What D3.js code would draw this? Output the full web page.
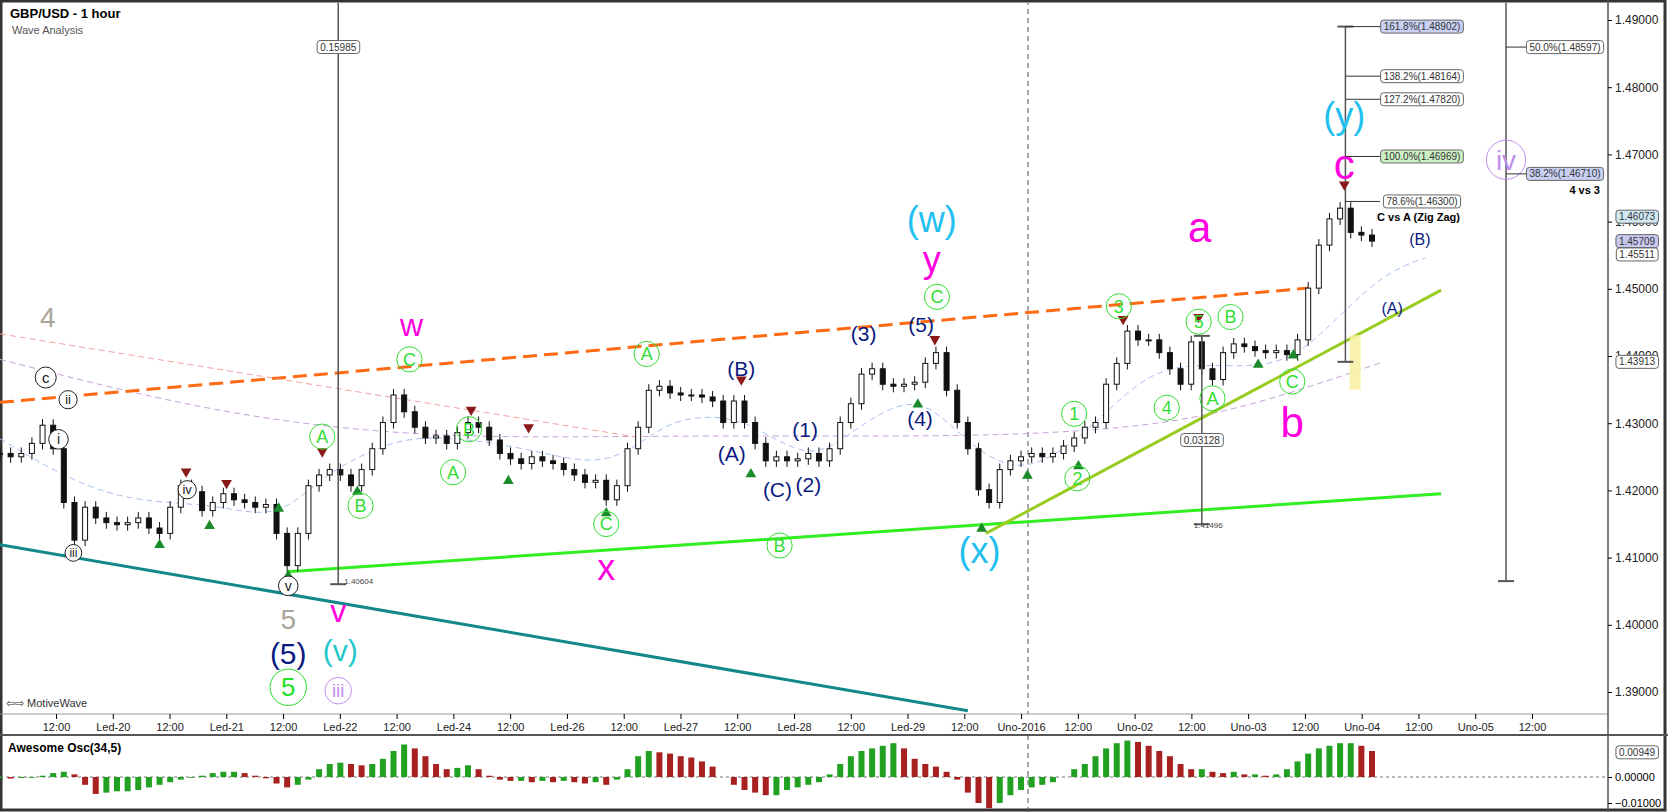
<!DOCTYPE html>
<html>
<head>
<meta charset="utf-8">
<style>
  body { margin: 0; background: #fff; font-family: "Liberation Sans", Arial, sans-serif; }
  svg { display: block; }
</style>
</head>
<body>
<svg id="chart" width="1668" height="812"></svg>
<script src="https://cdn.jsdelivr.net/npm/d3@7"></script>
<script>
// closes, one per bar step (about 2 hours)
const closes = [1.4255,1.4250,1.4255,1.4270,1.4297,1.4262,1.4182,1.4126,1.4175,1.4159,
1.4152,1.4149,1.4152,1.4159,1.4144,1.4136,1.4175,1.4207,1.4198,1.4170,
1.4182,1.4195,1.4186,1.4182,1.4175,1.4179,1.4136,1.4088,1.4136,1.4207,
1.4223,1.4231,1.4223,1.4207,1.4231,1.4262,1.4301,1.4342,1.4317,1.4294,
1.4278,1.4281,1.4270,1.4286,1.4301,1.4294,1.4275,1.4255,1.4247,1.4240,
1.4250,1.4244,1.4240,1.4231,1.4223,1.4212,1.4215,1.4186,1.4207,1.4262,
1.4294,1.4349,1.4355,1.4345,1.4342,1.4342,1.4339,1.4333,1.4301,1.4333,
1.4301,1.4270,1.4244,1.4250,1.4244,1.4247,1.4255,1.4244,1.4262,1.4301,
1.4329,1.4373,1.4381,1.4358,1.4355,1.4358,1.4361,1.4389,1.4405,1.4349,
1.4301,1.4262,1.4201,1.4182,1.4231,1.4244,1.4250,1.4255,1.4250,1.4255,
1.4266,1.4278,1.4294,1.4301,1.4358,1.4389,1.4437,1.4424,1.4424,1.4405,
1.4381,1.4358,1.4421,1.4381,1.4365,1.4405,1.4418,1.4414,1.4408,1.4405,
1.4408,1.4402,1.4424,1.4501,1.4565,1.4604,1.4620,1.4584,1.4580,1.4571];
const wick = 0.0009;

// Awesome oscillator, in thousandths
const osc = [-0.5,-0.6,-0.4,-0.3,0.5,1.5,2,1,-3,-6.5,-6,-5.5,-5.5,-5,-4,-3,-2,-1,-0.3,0.5,
1.5,2,2,1.5,0.5,-0.5,-2.5,-4,-3,-1,3,5,5.5,5,4.5,5,7,10,12.5,11,
8,5,3,3.5,4.5,3,0.5,-1,-1.5,-1.5,-2,-1.5,-2,-1.5,-2,-2.5,-2,-3,-1,3,
8,10,9.5,9,8,7.5,6,4,0,-3,-5,-6,-7,-7,-5,-4,-3,-2,1,5,
8,10,11,12,13,11,7,5,4,2,-1,-6,-10,-12,-10,-7,-5,-4,-3,-2,
0,3,5,8,11,13,14,13.5,12,10,8,5,3,3,2,1.5,2,1,1,0.5,
1,3,6,9,11,12,13,13,12,10];

const timeLabels = ["12:00","Led-20","12:00","Led-21","12:00","Led-22","12:00","Led-24","12:00","Led-26","12:00","Led-27","12:00","Led-28","12:00","Led-29","12:00","Uno-2016","12:00","Uno-02","12:00","Uno-03","12:00","Uno-04","12:00","Uno-05","12:00"];
const priceTicks = [1.39,1.40,1.41,1.42,1.43,1.44,1.45,1.46,1.47,1.48,1.49];

// moving averages [bar, price]
const maPurple = [[0,1.4395],[20,1.4314],[40,1.4277],[60,1.4281],[80,1.4281],[95,1.4281],[110,1.4297],[120,1.4337],[130,1.4391]];
const maBlue = [[0,1.4277],[10,1.4182],[20,1.4182],[26,1.4154],[30,1.4218],[35,1.4262],[40,1.4286],[50,1.4262],[57,1.4231],[62,1.4294],[65,1.4310],[70,1.4310],[76,1.4240],[80,1.4286],[86,1.4349],[90,1.4286],[95,1.4223],[100,1.4255],[105,1.4333],[110,1.4398],[120,1.4373],[125,1.4444],[130,1.4523],[134,1.4546]];

// trend lines [bar0, price0, bar1, price1]
const trendLines = [
  {p: [0,1.4331,123,1.4501], color: "#ff6a13", w: 3, dash: "14,7"},
  {p: [27,1.4079,135.5,1.4195], color: "#33ee22", w: 3, dash: null},
  {p: [0,1.4119,91,1.3872], color: "#13888a", w: 3, dash: null},
  {p: [92.7,1.4136,135.5,1.4498], color: "#99cc22", w: 3, dash: null},
  {p: [0,1.4433,60,1.4279], color: "#f4a0a0", w: 1, dash: "6,4"}
];

// wave labels: [text, bar, price, color, size, circled]
const waveLabels = [
  ["4",4.5,1.4458,"#a9a59a",28,false],["c",4.3,1.4368,"#222",15,true],["ii",6.4,1.4335,"#222",13,true],
  ["i",5.5,1.4276,"#222",14,true],["iii",6.9,1.4107,"#222",12,true],["iv",17.6,1.4201,"#222",13,true],
  ["v",27.1,1.4058,"#222",14,true],["5",27.1,1.4008,"#a9a59a",28,false],["(5)",27.1,1.3957,"#0b1a80",30,false],
  ["5",27.1,1.3907,"#22e022",26,true],["(v)",32,1.3962,"#22c8cc",30,false],["iii",31.8,1.3902,"#c090f0",19,true],
  ["v",31.8,1.4021,"#ff00e0",32,false],["w",38.7,1.4446,"#ff00e0",32,false],
  ["A",30.3,1.4280,"#33dd33",18,true],["B",33.9,1.4177,"#33dd33",18,true],["C",38.5,1.4395,"#33dd33",18,true],
  ["A",42.6,1.4227,"#33dd33",18,true],["B",44.1,1.4291,"#33dd33",18,true],["C",57,1.4150,"#33dd33",18,true],
  ["A",60.8,1.4403,"#33dd33",18,true],["B",73.3,1.4118,"#33dd33",18,true],["C",88.1,1.4488,"#33dd33",18,true],
  ["1",101,1.4314,"#33dd33",18,true],["2",101.3,1.4218,"#33dd33",18,true],["3",105.2,1.4474,"#33dd33",18,true],
  ["4",109.7,1.4323,"#33dd33",18,true],["5",112.7,1.4451,"#33dd33",18,true],["A",114,1.4337,"#33dd33",18,true],
  ["B",115.7,1.4458,"#33dd33",18,true],["C",121.5,1.4362,"#33dd33",18,true],
  ["(B)",69.7,1.4381,"#0b1a80",21,false],["(A)",68.8,1.4254,"#0b1a80",21,false],["(C)",73.1,1.4201,"#0b1a80",21,false],
  ["(2)",76,1.4208,"#0b1a80",21,false],["(1)",75.7,1.4290,"#0b1a80",21,false],["(3)",81.2,1.4434,"#0b1a80",21,false],
  ["(5)",86.6,1.4446,"#0b1a80",21,false],["(4)",86.5,1.4307,"#0b1a80",21,false],["(B)",133.5,1.4573,"#0b1a80",16,false],
  ["(A)",130.9,1.4471,"#0b1a80",16,false],
  ["x",57,1.4086,"#ff00e0",36,false],["y",87.6,1.4544,"#ff00e0",36,false],["a",112.8,1.4592,"#ff00e0",42,false],
  ["b",121.5,1.4301,"#ff00e0",42,false],["c",126.4,1.4686,"#ff00e0",42,false],
  ["(w)",87.6,1.4604,"#22c0f0",36,false],["(x)",92.1,1.4110,"#22c0f0",36,false],["(y)",126.4,1.4758,"#22c0f0",36,false],
  ["iv",141.6,1.4692,"#c090f0",28,true]
];
const upMarks = [[15,1.4119],[19.7,1.4147],[26.2,1.4173],[33.6,1.4198],[47.8,1.4214],[57,1.4166],[70.6,1.4224],[86.3,1.4328],[92.3,1.4143],[96.6,1.4222],[101.4,1.4236],[118.3,1.4387],[121.6,1.4401],[27.1,1.4073]];
const downMarks = [[17.5,1.4228],[21.3,1.4211],[30.3,1.4258],[44.3,1.4320],[49.7,1.4294],[69.7,1.4365],[87.9,1.4425],[105.6,1.4455],[112.7,1.4458],[126.4,1.4655]];

const fibLevels = [["161.8%(1.48902)",1.48902,"#c8d0f4"],["138.2%(1.48164)",1.48164,"#fff"],["127.2%(1.47820)",1.47820,"#fff"],["100.0%(1.46969)",1.46969,"#ccf0c4"],["78.6%(1.46300)",1.46300,"#fff"]];
const fib2Levels = [["50.0%(1.48597)",1.48597,"#fff"],["38.2%(1.46710)",1.46710,"#c8d0f4"]];
const priceTags = [["1.46073",1.46073,"#cfe8f4"],["1.45709",1.45709,"#c8c8f0"],["1.45511",1.45511,"#fff"],["1.43913",1.43913,"#fff"]];

const svg = d3.select("#chart");
const W = 1668, H = 812;
const plotR = 1608, plotB = 714, axisB = 735;

const x = d3.scaleLinear().domain([0, 129]).range([0, 1372]);
const xt = d3.scaleLinear().domain([0, 312]).range([56, 1532]);
const y = d3.scaleLinear().domain([1.39, 1.49]).range([692, 20]);
const yo = d3.scaleLinear().domain([-10, 10]).range([803, 751]);

svg.append("rect").attr("x",1).attr("y",1).attr("width",W-4).attr("height",H-3).attr("fill","#fff").attr("stroke","#333").attr("stroke-width",3);

svg.append("defs").append("clipPath").attr("id","plot").append("rect").attr("x",0).attr("y",3).attr("width",plotR).attr("height",plotB-3);
const g = svg.append("g").attr("clip-path","url(#plot)");

// separators
svg.append("line").attr("x1",0).attr("x2",plotR).attr("y1",plotB).attr("y2",plotB).attr("stroke","#999");
svg.append("line").attr("x1",0).attr("x2",W).attr("y1",axisB).attr("y2",axisB).attr("stroke","#555").attr("stroke-width",2);
svg.append("line").attr("x1",plotR).attr("x2",plotR).attr("y1",0).attr("y2",H).attr("stroke","#555").attr("stroke-width",1.5);

// vertical dashed separator
g.append("line").attr("x1",1028).attr("x2",1028).attr("y1",0).attr("y2",plotB).attr("stroke","#555").attr("stroke-dasharray","5,4");
svg.append("line").attr("x1",1028).attr("x2",1028).attr("y1",axisB).attr("y2",H).attr("stroke","#555").attr("stroke-dasharray","5,4");

// moving averages
const line = d3.line().x(d => x(d[0])).y(d => y(d[1])).curve(d3.curveBasis);
g.append("path").attr("d", line(maPurple)).attr("fill","none").attr("stroke","#c9a0d8").attr("stroke-dasharray","6,4");
g.append("path").attr("d", line(maBlue)).attr("fill","none").attr("stroke","#a8c0f0").attr("stroke-dasharray","6,4");

// trend lines
trendLines.forEach(t => {
  g.append("line").attr("x1",x(t.p[0])).attr("y1",y(t.p[1])).attr("x2",x(t.p[2])).attr("y2",y(t.p[3]))
    .attr("stroke",t.color).attr("stroke-width",t.w).attr("stroke-dasharray",t.dash);
});

// yellow zone
g.append("rect").attr("x",x(126.9)).attr("width",11).attr("y",y(1.4431)).attr("height",y(1.4350)-y(1.4431)).attr("fill","#f8f0a0").attr("opacity",0.85);

// candles
const candles = closes.map((c, i) => {
  const o = i ? closes[i-1] : c;
  return {i, o, c, h: Math.max(o,c) + wick, l: Math.min(o,c) - wick};
});
const cg = g.selectAll(".candle").data(candles).enter().append("g");
cg.append("line").attr("x1",d => x(d.i)).attr("x2",d => x(d.i)).attr("y1",d => y(d.h)).attr("y2",d => y(d.l)).attr("stroke","#111");
cg.append("rect").attr("x",d => x(d.i)-2.5).attr("width",5)
  .attr("y",d => y(Math.max(d.o,d.c))).attr("height",d => Math.max(1, Math.abs(y(d.o)-y(d.c))))
  .attr("fill",d => d.c >= d.o ? "#fff" : "#111").attr("stroke","#111");

// measurement lines
function vline(bx, p0, p1) {
  g.append("line").attr("x1",x(bx)).attr("x2",x(bx)).attr("y1",y(p0)).attr("y2",y(p1)).attr("stroke","#555").attr("stroke-width",1.5);
  [p0,p1].forEach(p => g.append("line").attr("x1",x(bx)-8).attr("x2",x(bx)+8).attr("y1",y(p)).attr("y2",y(p)).attr("stroke","#555").attr("stroke-width",2));
}
function tag(text, px, py, fill) {
  const tg = svg.append("g");
  const r = tg.append("rect");
  const t = tg.append("text").attr("x",px).attr("y",py).attr("dy","0.35em").attr("font-size",10).attr("fill","#333").attr("text-anchor","middle").text(text);
  const b = t.node().getBBox();
  r.attr("x",b.x-3).attr("y",b.y-1).attr("width",b.width+6).attr("height",b.height+2).attr("rx",3)
    .attr("fill",fill).attr("stroke","#666");
}
vline(31.8, 1.5, 1.40604);
tag("0.15985", x(31.8), 47, "#fff");
svg.append("text").attr("x",x(31.8)+6).attr("y",y(1.40604)).attr("font-size",8).attr("fill","#444").text("1.40604");
vline(113, 1.4430, 1.41496);
tag("0.03128", x(113), y(1.4275), "#fff");
svg.append("text").attr("x",x(113)-8).attr("y",y(1.41496)+4).attr("font-size",8).attr("fill","#444").text("1.41496");
vline(126.5, 1.48902, 1.43913);
vline(141.6, 1.5, 1.4065);

// fib labels
fibLevels.forEach(f => {
  svg.append("line").attr("x1",x(126.5)).attr("x2",1380).attr("y1",y(f[1])).attr("y2",y(f[1])).attr("stroke","#333");
  tag(f[0], 1422, y(f[1]), f[2]);
});
fib2Levels.forEach(f => {
  svg.append("line").attr("x1",x(141.6)).attr("x2",1528).attr("y1",y(f[1])).attr("y2",y(f[1])).attr("stroke","#333");
  tag(f[0], 1565, y(f[1]), f[2]);
});
svg.append("text").attr("x",1460).attr("y",221).attr("font-size",11).attr("font-weight","bold").attr("text-anchor","end").text("C vs A (Zig Zag)");
svg.append("text").attr("x",1600).attr("y",194).attr("font-size",11).attr("font-weight","bold").attr("text-anchor","end").text("4 vs 3");

// triangles
const tri = d3.symbol().type(d3.symbolTriangle).size(50);
g.selectAll(".up").data(upMarks).enter().append("path").attr("d",tri)
  .attr("transform",d => `translate(${x(d[0])},${y(d[1])})`).attr("fill","#1a8a2a");
g.selectAll(".dn").data(downMarks).enter().append("path").attr("d",tri)
  .attr("transform",d => `translate(${x(d[0])},${y(d[1])}) rotate(180)`).attr("fill","#8a1a1a");

// wave labels
waveLabels.forEach(w => {
  const cx = x(w[1]), cy = y(w[2]);
  if (w[5]) {
    g.append("circle").attr("cx",cx).attr("cy",cy).attr("r",w[4]*0.7)
      .attr("fill",w[3] === "#222" ? "#fff" : "none").attr("stroke",w[3]).attr("stroke-width",1);
  }
  g.append("text").attr("x",cx).attr("y",cy).attr("dy","0.35em").attr("text-anchor","middle")
    .attr("font-size",w[4]).attr("fill",w[3]).text(w[0]);
});

// price axis
const ya = svg.append("g").attr("transform",`translate(${plotR},0)`)
  .call(d3.axisRight(y).tickValues(priceTicks).tickFormat(d3.format(".5f")).tickSize(4));
ya.select(".domain").remove();
ya.selectAll("text").attr("font-size",12).attr("fill","#222");
priceTags.forEach(p => tag(p[0], 1637, y(p[1]), p[2]));

// time axis
const xa = svg.append("g").attr("transform",`translate(0,${plotB})`)
  .call(d3.axisBottom(xt).tickValues(d3.range(0, 313, 12)).tickFormat((d, i) => timeLabels[i]).tickSize(5));
xa.select(".domain").remove();
xa.selectAll("text").attr("font-size",11).attr("fill","#222").attr("dy","0.85em");

// oscillator
svg.append("line").attr("x1",0).attr("x2",plotR).attr("y1",yo(0)).attr("y2",yo(0)).attr("stroke","#777").attr("stroke-dasharray","3,3");
svg.selectAll(".ob").data(osc).enter().append("rect")
  .attr("x",(d,i) => x(i)-3).attr("width",6)
  .attr("y",d => Math.min(yo(d), yo(0))).attr("height",d => Math.abs(yo(d)-yo(0)))
  .attr("fill",(d,i) => i && d < osc[i-1] ? "#a82020" : "#22a022");
const oa = svg.append("g").attr("transform",`translate(${plotR},0)`)
  .call(d3.axisRight(yo).tickValues([-10,0]).tickFormat(d => d3.format(".5f")(d/1000)).tickSize(4));
oa.select(".domain").remove();
oa.selectAll("text").attr("font-size",11);
tag("0.00949", 1637, yo(9.49), "#fff");
svg.append("text").attr("x",8).attr("y",752).attr("font-size",12).attr("font-weight","bold").text("Awesome Osc(34,5)");

// titles
svg.append("text").attr("x",10).attr("y",18).attr("font-size",13).attr("font-weight","bold").text("GBP/USD - 1 hour");
svg.append("text").attr("x",12).attr("y",34).attr("font-size",11).attr("fill","#555").text("Wave Analysis");
svg.append("text").attr("x",6).attr("y",707).attr("font-size",11).attr("fill","#333").text("⇦⇨ MotiveWave");
</script>
</body>
</html>
